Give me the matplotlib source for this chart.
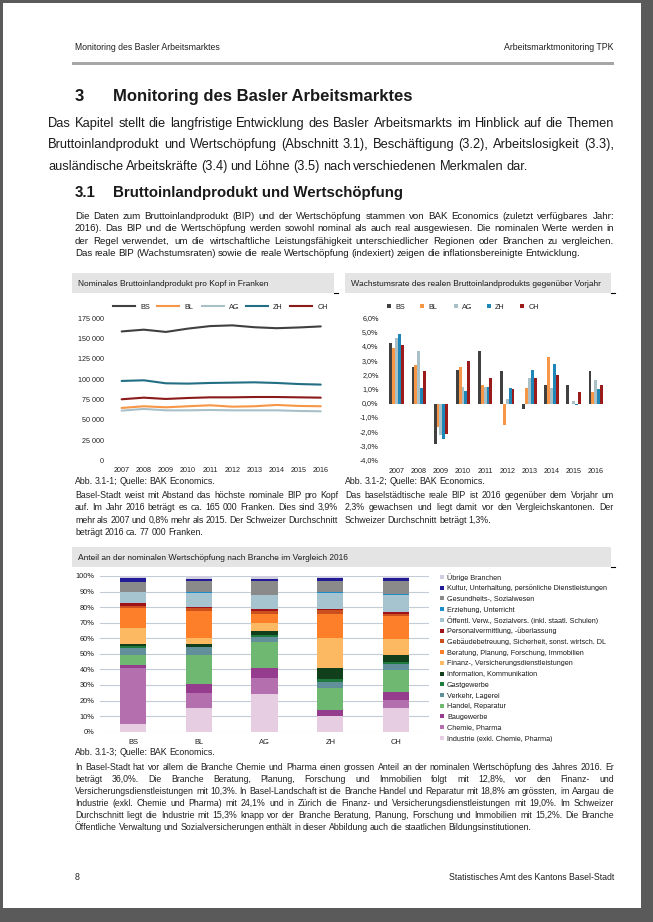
import matplotlib
matplotlib.use('Agg')
import matplotlib.pyplot as plt
from matplotlib.patches import Rectangle
from matplotlib.lines import Line2D
from matplotlib.ticker import FuncFormatter
import numpy as np

plt.rcParams['font.family'] = ['Liberation Sans', 'DejaVu Sans']
plt.rcParams['text.hinting'] = 'native'

# ---------------- data ----------------
years = [2007, 2008, 2009, 2010, 2011, 2012, 2013, 2014, 2015, 2016]
regions = ['BS', 'BL', 'AG', 'ZH', 'CH']

gdp_bs = [158800, 161000, 158200, 162300, 165400, 166300, 164000, 162800, 163700, 165000]
gdp_bl = [64500, 66600, 65300, 66600, 67800, 66100, 66600, 68200, 67000, 66600]
gdp_ag = [61200, 63300, 61600, 61600, 62000, 61600, 61600, 61600, 60800, 60400]
gdp_zh = [97800, 98600, 94900, 94500, 95300, 95700, 96100, 95300, 94000, 93300]
gdp_ch = [75200, 77200, 75600, 76800, 77600, 77600, 78000, 78000, 77600, 77200]

growth_bs = [4.3, 2.6, -2.8, 2.4, 3.7, 2.3, -0.4, 1.3, 1.3, 2.3]
growth_bl = [3.9, 2.7, -1.6, 2.6, 1.3, -1.5, 1.1, 3.3, 0.0, 0.8]
growth_ag = [4.6, 3.7, -2.2, 1.2, 1.2, 0.3, 1.8, 1.1, 0.2, 1.7]
growth_zh = [4.9, 1.1, -2.5, 0.9, 1.2, 1.1, 2.4, 2.8, -0.1, 1.0]
growth_ch = [4.1, 2.3, -2.1, 3.0, 1.8, 1.0, 1.8, 2.0, 0.8, 1.3]

sectors = ['Industrie (exkl. Chemie, Pharma)', 'Chemie, Pharma', 'Baugewerbe',
           'Handel, Reparatur', 'Verkehr, Lagerei', 'Gastgewerbe',
           'Information, Kommunikation', 'Finanz-, Versicherungsdienstleistungen',
           'Beratung, Planung, Forschung, Immobilien',
           'Gebäudebetreuung, Sicherheit, sonst. wirtsch. DL',
           'Personalvermittlung, -überlassung',
           'Öffentl. Verw., Sozialvers. (inkl. staatl. Schulen)',
           'Erziehung, Unterricht', 'Gesundheits-, Sozialwesen',
           'Kultur, Unterhaltung, persönliche Dienstleistungen', 'Übrige Branchen']
share_bs = [4.9, 36.0, 1.9, 6.7, 4.3, 1.1, 1.7, 10.3, 12.8, 1.1, 2.1, 6.9, 0.2, 6.4, 2.6, 1.0]
share_bl = [15.4, 9.2, 5.8, 18.8, 4.9, 0.6, 1.9, 3.9, 17.1, 2.0, 0.5, 9.2, 0.2, 7.3, 1.5, 1.7]
share_ag = [24.1, 10.3, 6.4, 16.7, 3.6, 1.1, 2.6, 4.7, 6.4, 1.3, 1.7, 9.0, 0.2, 8.6, 1.3, 2.0]
share_zh = [9.8, 0.5, 3.6, 14.3, 4.0, 1.5, 7.5, 19.0, 15.6, 2.2, 0.8, 10.5, 0.3, 7.2, 2.0, 1.2]
share_ch = [15.3, 5.0, 5.0, 14.3, 3.7, 1.7, 4.3, 10.0, 15.2, 1.1, 1.5, 10.9, 0.4, 8.4, 1.7, 1.5]

# ---------------- styles ----------------
line_colors = ['#404040', '#f79646', '#a9c0c9', '#226e84', '#8b1a1a']
bar_colors = ['#404040', '#f79646', '#a9c0c9', '#1f87b8', '#9b1b1b']
sector_colors = ['#e6cde1', '#b36fae', '#963c8f', '#6fb872', '#62909a', '#1e7b3d',
                 '#113f1c', '#fdb961', '#fd7f29', '#cc501d', '#a01318', '#a6c3d0',
                 '#1c8dc8', '#8a8a8a', '#231a96', '#cfcfe0']
TXT = '#1a1a1a'

W, H = 653, 922
fig = plt.figure(figsize=(W / 100, H / 100), dpi=100)
fig.patch.set_facecolor('#5a5a5a')
renderer = fig.canvas.get_renderer()


def fx(x):
    return x / W


def fy(y):
    return 1 - y / H


def rect_px(x0, y0, x1, y1, color, z=0):
    fig.add_artist(Rectangle((fx(x0), fy(y1)), (x1 - x0) / W, (y1 - y0) / H,
                             transform=fig.transFigure, facecolor=color,
                             edgecolor='none', zorder=z))


def axes_px(x0, y0, x1, y1):
    return fig.add_axes([fx(x0), fy(y1), (x1 - x0) / W, (y1 - y0) / H])


def text_px(x, y, s, size, ha='left', weight='normal', color=TXT):
    # y is the vertical centre of capital letters; place on an integer baseline
    yb = round(y + 0.358 * size * 100 / 72)
    return fig.text(fx(x), fy(yb), s, fontsize=size, ha=ha, va='baseline',
                    fontweight=weight, color=color, zorder=5)


def width_px(s, size, weight='normal'):
    t = fig.text(0, 0, s, fontsize=size, fontweight=weight)
    w = t.get_window_extent(renderer).width
    t.remove()
    return w


def fit_size(s, target, weight='normal'):
    return target / width_px(s, 10, weight) * 10


def para_size(lines, x0, x1, squeeze=1.0):
    sp10 = width_px('a a', 10) - width_px('aa', 10)
    best = 1e9
    for l in lines[:-1]:
        n = l.count(' ')
        need = width_px(l, 10) - (1 - squeeze) * n * sp10
        best = min(best, (x1 - x0) / need * 10)
    return best * 0.995


def paragraph(lines, x0, x1, y0, dy, size):
    for i, line in enumerate(lines):
        y = y0 + i * dy
        words = line.split(' ')
        ws = [width_px(w, size) for w in words]
        if i == len(lines) - 1:
            gap = 0.8 * (width_px('a a', size) - width_px('aa', size))
        else:
            gap = (x1 - x0 - sum(ws)) / (len(words) - 1)
        x = x0
        for w, wd in zip(words, ws):
            text_px(x, y, w, size)
            x += wd + gap


# page
rect_px(3, 3, 641, 908, 'white', z=-10)

# header / footer
hs = fit_size('Monitoring des Basler Arbeitsmarktes', 146)
text_px(75, 47, 'Monitoring des Basler Arbeitsmarktes', hs)
text_px(614, 47, 'Arbeitsmarktmonitoring TPK', hs, ha='right')
rect_px(72, 62, 614, 65, '#a6a6a6')
text_px(75, 877, '8', hs)
text_px(614, 877, 'Statistisches Amt des Kantons Basel-Stadt', hs, ha='right')

# headings
h1 = fit_size('Monitoring des Basler Arbeitsmarktes', 300, 'bold')
text_px(75, 95, '3', h1, weight='bold')
text_px(113, 95, 'Monitoring des Basler Arbeitsmarktes', h1, weight='bold')
h2 = fit_size('Bruttoinlandprodukt und Wertschöpfung', 292, 'bold')
text_px(75, 192, '3.1', h2, weight='bold')
text_px(113, 192, 'Bruttoinlandprodukt und Wertschöpfung', h2, weight='bold')

p1 = ['Das Kapitel stellt die langfristige Entwicklung des Basler Arbeitsmarkts im Hinblick auf die Themen',
      'Bruttoinlandprodukt und Wertschöpfung (Abschnitt 3.1), Beschäftigung (3.2), Arbeitslosigkeit (3.3),',
      'ausländische Arbeitskräfte (3.4) und Löhne (3.5) nach verschiedenen Merkmalen dar.']
p2 = ['Die Daten zum Bruttoinlandprodukt (BIP) und der Wertschöpfung stammen von BAK Economics (zuletzt verfügbares Jahr:',
      '2016). Das BIP und die Wertschöpfung werden sowohl nominal als auch real ausgewiesen. Die nominalen Werte werden in',
      'der Regel verwendet, um die wirtschaftliche Leistungsfähigkeit unterschiedlicher Regionen oder Branchen zu vergleichen.',
      'Das reale BIP (Wachstumsraten) sowie die reale Wertschöpfung (indexiert) zeigen die inflationsbereinigte Entwicklung.']
p3 = ['Basel-Stadt weist mit Abstand das höchste nominale BIP pro Kopf',
      'auf. Im Jahr 2016 beträgt es ca. 165 000 Franken. Dies sind 3,9%',
      'mehr als 2007 und 0,8% mehr als 2015. Der Schweizer Durchschnitt',
      'beträgt 2016 ca. 77 000 Franken.']
p4 = ['Das baselstädtische reale BIP ist 2016 gegenüber dem Vorjahr um',
      '2,3% gewachsen und liegt damit vor den Vergleichskantonen. Der',
      'Schweizer Durchschnitt beträgt 1,3%.']
p5 = ['In Basel-Stadt hat vor allem die Branche Chemie und Pharma einen grossen Anteil an der nominalen Wertschöpfung des Jahres 2016. Er',
      'beträgt 36,0%. Die Branche Beratung, Planung, Forschung und Immobilien folgt mit 12,8%, vor den Finanz- und',
      'Versicherungsdienstleistungen mit 10,3%. In Basel-Landschaft ist die Branche Handel und Reparatur mit 18,8% am grössten, im Aargau die',
      'Industrie (exkl. Chemie und Pharma) mit 24,1% und in Zürich die Finanz- und Versicherungsdienstleistungen mit 19,0%. Im Schweizer',
      'Durchschnitt liegt die Industrie mit 15,3% knapp vor der Branche Beratung, Planung, Forschung und Immobilien mit 15,2%. Die Branche',
      'Öffentliche Verwaltung und Sozialversicherungen enthält in dieser Abbildung auch die staatlichen Bildungsinstitutionen.']

paragraph(p1, 48, 614, 122, 21.5, para_size(p1, 48, 614))
paragraph(p2, 75, 614, 215, 12.6, para_size(p2, 75, 614))
s34 = min(para_size(p3, 75, 338, 0.65), para_size(p4, 345, 614, 0.65))
paragraph(['Abb. 3.1-1; Quelle: BAK Economics.'], 75, 338, 481, 0, s34)
paragraph(['Abb. 3.1-2; Quelle: BAK Economics.'], 345, 614, 481, 0, s34)
paragraph(p3, 75, 338, 495, 12.2, s34)
paragraph(p4, 345, 614, 495, 12.2, s34)
s5 = para_size(p5, 75, 614, 0.85)
paragraph(['Abb. 3.1-3; Quelle: BAK Economics.'], 75, 614, 752, 0, s34)
paragraph(p5, 75, 614, 767, 12.0, s5)

# chart title boxes
ts = 6.0
rect_px(72, 273, 334, 293, '#e4e4e4')
text_px(78, 283, 'Nominales Bruttoinlandprodukt pro Kopf in Franken', ts)
rect_px(345, 273, 611, 293, '#e4e4e4')
text_px(351, 283, 'Wachstumsrate des realen Bruttoinlandprodukts gegenüber Vorjahr', ts)
rect_px(72, 547, 611, 567, '#e4e4e4')
text_px(78, 557, 'Anteil an der nominalen Wertschöpfung nach Branche im Vergleich 2016', ts)
for (a, b, y) in [(334, 338, 293.5), (611, 615, 293.5), (611, 615, 567.5)]:
    fig.add_artist(Line2D([fx(a), fx(b)], [fy(y), fy(y)], transform=fig.transFigure,
                          color='black', lw=0.8))

tick_fs = 5.2


def style_axes(ax):
    for s in ax.spines.values():
        s.set_visible(False)
    ax.tick_params(length=0, labelsize=tick_fs, colors=TXT)
    ax.set_facecolor('none')


# ---------------- chart 1: line ----------------
ax1 = axes_px(110.6, 318.3, 331.8, 460.3)
series_gdp = [gdp_bs, gdp_bl, gdp_ag, gdp_zh, gdp_ch]
for vals, c in zip(series_gdp, line_colors):
    ax1.plot(years, vals, color=c, lw=1.5, solid_capstyle='round')
ax1.set_xlim(2006.5, 2016.5)
ax1.set_ylim(0, 175000)
ax1.set_xticks(years)
ax1.set_yticks(np.arange(0, 175001, 25000))
ax1.yaxis.set_major_formatter(FuncFormatter(lambda v, p: f"{int(v):,}".replace(',', ' ')))
style_axes(ax1)
ax1.tick_params(axis='y', pad=5)
ax1.tick_params(axis='x', pad=5)
for i, (name, c) in enumerate(zip(regions, line_colors)):
    x0 = 113 + 44.3 * i
    fig.add_artist(Line2D([fx(x0), fx(x0 + 22)], [fy(306.5), fy(306.5)],
                          transform=fig.transFigure, color=c, lw=1.5))
    text_px(x0 + 27, 306.5, name, tick_fs)

# ---------------- chart 2: grouped bars ----------------
ax2 = axes_px(385.6, 318.3, 606.8, 460.7)
series_growth = [growth_bs, growth_bl, growth_ag, growth_zh, growth_ch]
bw = 0.13
xs = np.array(years, dtype=float)
for i, (vals, c) in enumerate(zip(series_growth, bar_colors)):
    ax2.bar(xs + (i - 2) * bw, vals, width=bw, color=c, linewidth=0)
ax2.set_xlim(2006.5, 2016.5)
ax2.set_ylim(-4, 6)
ax2.set_xticks(years)
ax2.set_yticks(np.arange(-4, 6.01, 1))
ax2.yaxis.set_major_formatter(FuncFormatter(lambda v, p: f"{v:.1f}%".replace('.', ',')))
style_axes(ax2)
ax2.tick_params(axis='y', pad=5)
ax2.tick_params(axis='x', pad=5)
for i, (name, c) in enumerate(zip(regions, bar_colors)):
    x0 = 387 + 33.3 * i
    rect_px(x0, 304, x0 + 4, 308, c, z=5)
    text_px(x0 + 8, 306, name, tick_fs)

# ---------------- chart 3: stacked bars ----------------
ax3 = axes_px(100, 576, 429, 731.7)
shares = np.array([share_bs, share_bl, share_ag, share_zh, share_ch])
pos = np.arange(len(regions))
bottom = np.zeros(len(regions))
for j, (name, c) in enumerate(zip(sectors, sector_colors)):
    ax3.bar(pos, shares[:, j], bottom=bottom, width=0.4, color=c, linewidth=0, zorder=3)
    bottom += shares[:, j]
ax3.set_xlim(-0.5, 4.5)
ax3.set_ylim(0, 100)
ax3.set_xticks(pos)
ax3.set_xticklabels(regions)
ax3.set_yticks(np.arange(0, 101, 10))
ax3.yaxis.set_major_formatter(FuncFormatter(lambda v, p: f"{int(round(v))}%"))
style_axes(ax3)
ax3.grid(axis='y', color='#c3ccd6', lw=0.8, zorder=0)
ax3.set_axisbelow(True)
ax3.tick_params(axis='y', pad=4, labelsize=5.4)
ax3.tick_params(axis='x', pad=5, labelsize=5.4)

n = len(sectors)
for k, j in enumerate(range(n - 1, -1, -1)):
    y = 577 + 10.73 * k
    rect_px(440, y - 2, 444, y + 2, sector_colors[j], z=5)
    text_px(447, y, sectors[j], 5.2)

fig.savefig('out.png', dpi=100, facecolor=fig.get_facecolor())
